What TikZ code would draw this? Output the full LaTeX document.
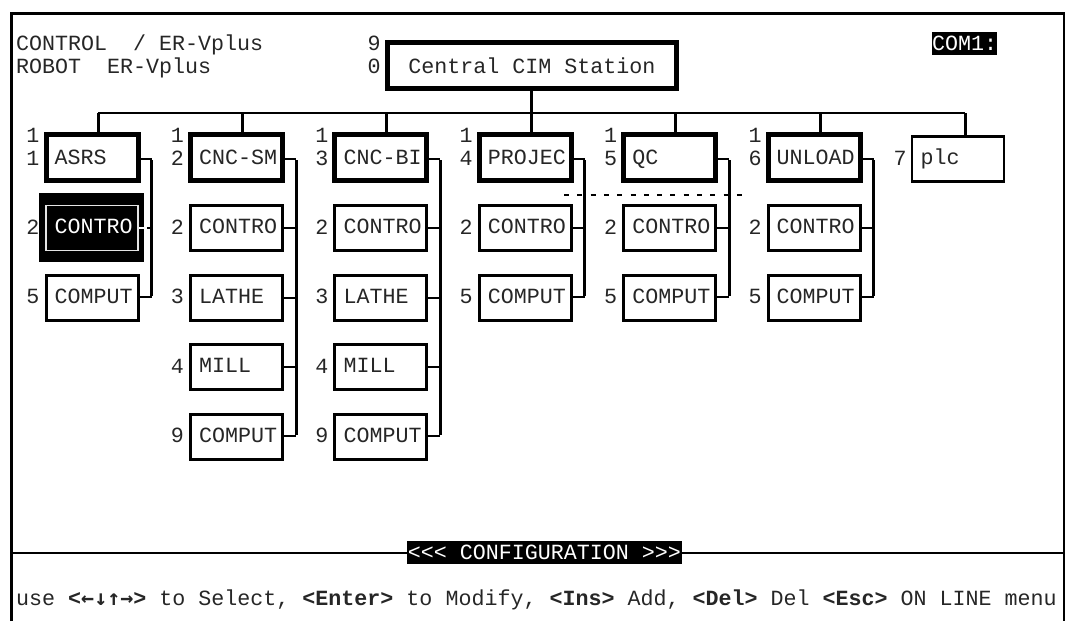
\documentclass[tikz,border=0pt]{standalone}
\usepackage{fontspec}
\newfontfamily\scr{Liberation Mono}
\newfontfamily\arr{DejaVu Sans Mono}
\tikzset{
  term/.style={font=\scr\fontsize{21.67}{24}\selectfont,text=black!85},
  boxbase/.style={draw=black,fill=white,rectangle,term,minimum width=92pt,minimum height=45pt,
    inner xsep=7pt,inner ysep=0pt,text width=78pt,align=left,text height=11pt,text depth=0pt},
  topbox/.style={boxbase,line width=5pt,minimum height=46pt,text height=14pt},
  kidbox/.style={boxbase,line width=3pt},
  selbox/.style={boxbase,line width=1.6pt,draw=white!90!black,fill=black,text=white},
  num/.style={term,inner sep=0pt,anchor=center},
  plain/.style={term,inner sep=0pt,anchor=west,text height=14pt,text depth=0pt},
  inv/.style={term,text=white,fill=black,inner xsep=0pt,inner ysep=0pt},
  wire/.style={draw=black,line width=3pt},
  thin wire/.style={draw=black,line width=2pt},
}
\newcommand\lbl[1]{\mbox{\hspace*{1.7pt}#1}}
\begin{document}
\begin{tikzpicture}[x=1pt,y=-1pt]
\useasboundingbox (0,0) rectangle (1065,621);
\draw[line width=3pt] (11.5,621) -- (11.5,13.5) -- (1064,13.5) -- (1064,621);

% header text
\node[plain] (hdrA) at (16,43) {CONTROL\ \ / ER-Vplus};
\node[plain] (hdrB) at (16,66) {ROBOT\ \ ER-Vplus};
\node[inv,minimum width=65.6pt,minimum height=22.7pt] (com) at (964.5,43.7) {COM1:};

% root
\node[draw=black,fill=white,rectangle,term,line width=5pt,minimum width=289.5pt,minimum height=46pt,inner sep=0pt,text height=15pt,text depth=0pt] (root) at (531.8,65.5) {Central CIM Station};
\node[num] (rootA) at (374,43) {9};
\node[num] (rootB) at (374,66) {0};

% trunk
\coordinate (hbusL) at (98,113.3);
\coordinate (hbusR) at (965,113.3);
\draw[thin wire] (hbusL) -- (hbusR);
\draw[wire] (root.south) -- (root.south |- hbusL);

% top row
\foreach \k/\lab/\n in {0/ASRS/1,1/CNC-SM/2,2/CNC-BI/3,3/PROJEC/4,4/QC/5,5/UNLOAD/6}{
  \pgfmathsetmacro\cx{92+144.4*\k}
  \node[topbox] (t\k) at (\cx,157.5) {\lbl{\lab}};
  \node[num] (ta\k) at ({\cx-59},135.7) {1};
  \node[num] (tb\k) at ({\cx-59},158.7) {\n};
  \coordinate (d\k) at ({\cx+6},113.3);
  \draw[wire] (d\k) -- (d\k |- t\k.north);
}
\node[boxbase,line width=2.5pt,minimum width=92pt] (plc) at (958,159.2) {\lbl{plc}};
\node[num] (plcn) at (900,158.7) {7};
\coordinate (d6) at (965,113.3);
\draw[wire] (d6) -- (d6 |- plc.north);

% selected black backing
\node[rectangle,fill=black,minimum width=104.7pt,minimum height=69pt,inner sep=0pt] (selbg) at (91.7,227.2) {};

% children
\foreach \k/\y/\n/\lab in {
  0/228/2/CONTRO,0/297.5/5/COMPUT,
  1/228/2/CONTRO,1/297.5/3/LATHE,1/367/4/MILL,1/436.5/9/COMPUT,
  2/228/2/CONTRO,2/297.5/3/LATHE,2/367/4/MILL,2/436.5/9/COMPUT,
  3/228/2/CONTRO,3/297.5/5/COMPUT,
  4/228/2/CONTRO,4/297.5/5/COMPUT,
  5/228/2/CONTRO,5/297.5/5/COMPUT}{
  \pgfmathsetmacro\cx{92+144.4*\k}
  \pgfmathtruncatemacro\yy{\y}
  \ifnum\k=0 \ifnum\yy=228
    \node[selbox] (c\k-\yy) at (\cx,\y) {\lbl{\lab}};
  \else
    \node[kidbox] (c\k-\yy) at (\cx,\y) {\lbl{\lab}};
  \fi\else
    \node[kidbox] (c\k-\yy) at (\cx,\y) {\lbl{\lab}};
  \fi
  \node[num] (n\k-\yy) at ({\cx-59},{\y-1}) {\n};
}

% vertical buses and stubs
\foreach \k/\last in {0/297,1/436,2/436,3/297,4/297,5/297}{
  \pgfmathsetmacro\bx{151.6+144.4*\k}
  \coordinate (bt\k) at (\bx,159);
  \coordinate (bb\k) at (\bx,\last);
  \draw[thin wire] (t\k.east |- bt\k) -- (bt\k);
  \draw[wire] ([yshift=-1pt]bt\k) -- ([yshift=1pt]bb\k);
  \draw[thin wire] (c\k-297.east |- bb\k) -- (bb\k);
}
\foreach \k in {1,2}{
  \draw[thin wire] (c\k-367.east) -- (c\k-367.east -| bt\k);
  \draw[thin wire] (c\k-436.east |- bb\k) -- (bb\k);
  \draw[thin wire] (c\k-297.east) -- (c\k-297.east -| bt\k);
}
\foreach \k in {0,1,2,3,4,5}{
  \draw[thin wire] (c\k-228.east) -- (c\k-228.east -| bt\k);
}
\draw[draw=white,line width=1.2pt] (c0-228.east) -- ++(8,0);

% dotted trace
\coordinate (dotA) at (564,195);
\coordinate (dotB) at (742,195);
\draw[draw=black,line width=1.3pt,dash pattern=on 5pt off 8.3pt] (dotA) -- (dotB);

% footer
\coordinate (footL) at (13,553);
\coordinate (footR) at (1062.5,553);
\draw[thin wire] (footL) -- (footR);
\node[inv,minimum width=275.5pt,minimum height=23.4pt] (cfg) at (544.4,552.3) {<<< CONFIGURATION >>>};
\node[plain] (help) at (16,598.5) {use \textbf{<{\arr ←↓↑→}>} to Select, \textbf{<Enter>} to Modify, \textbf{<Ins>} Add, \textbf{<Del>} Del \textbf{<Esc>} ON LINE menu};
\end{tikzpicture}
\end{document}
